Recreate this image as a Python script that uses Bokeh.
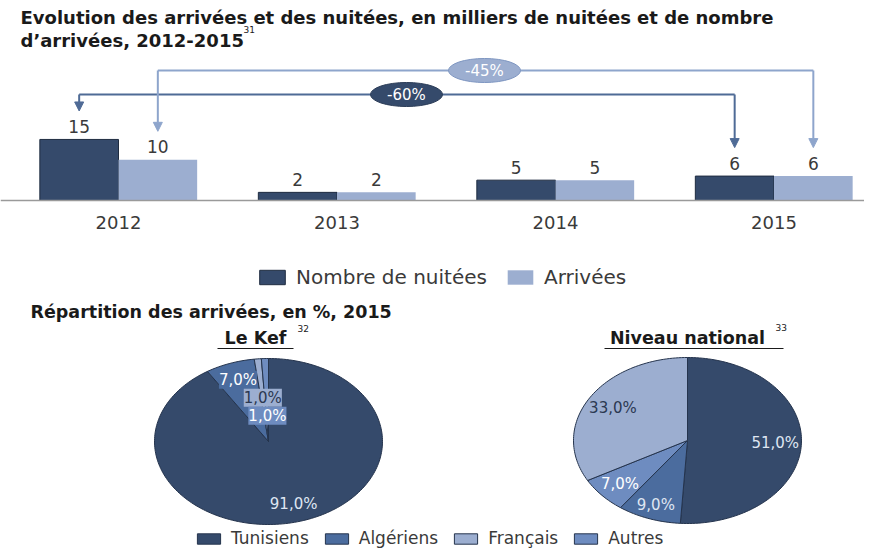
import math
from bokeh.plotting import figure
from bokeh.models import (Range1d, Span, Legend, LegendItem, Label, Arrow,
                          NormalHead, ColumnDataSource)
from bokeh.layouts import column
from bokeh.embed import file_html
from bokeh.resources import INLINE
from bokeh.core.properties import value

# ---------------- data ----------------
years = ["2012", "2013", "2014", "2015"]
nuitees = [15, 2, 5, 6]          # milliers de nuitées
arrivees = [10, 2, 5, 6]         # milliers d'arrivées
var_nuitees = "-60%"
var_arrivees = "-45%"

pie_cats = ["Tunisiens", "Algériens", "Français", "Autres"]
kef_cats = ["Tunisiens", "Algériens", "Français", "Autres"]
kef_pct = [91.0, 7.0, 1.0, 1.0]
nat_cats = ["Tunisiens", "Algériens", "Autres", "Français"]
nat_pct = [51.0, 9.0, 7.0, 33.0]

# ---------------- styles ----------------
DARK = "#354a6b"
ALG = "#4b6c9e"
FR = "#9caed0"
AUT = "#6e8cc0"
LIGHT = "#9caed0"
cat_color = {"Tunisiens": DARK, "Algériens": ALG, "Français": FR, "Autres": AUT}
TXT = "#3a3a3a"
FNAME = "DejaVu Sans"
FONT = value(FNAME)

W = 864
H1 = 290
H2 = 258

# page-pixel anchors for the bar panel (layout only)
X0, XS = 118.0, 218.5      # px of group 0 centre, px per group
Y0, YS = 200.0, 4.07       # px of baseline, px per unit


def tx(px):
    return (px - X0) / XS


def ty(py):
    return (Y0 - py) / YS


p1 = figure(width=W, height=H1, x_range=Range1d(tx(0), tx(W)),
            y_range=Range1d(ty(H1), ty(0)), x_axis_type=None,
            y_axis_type=None, output_backend="svg", toolbar_location=None,
            min_border=0)
p1.grid.visible = False
p1.outline_line_color = None

idx = list(range(len(years)))
BW = 0.36
src = ColumnDataSource(dict(
    xd=[i - BW / 2 for i in idx], xl=[i + BW / 2 for i in idx],
    n=nuitees, a=arrivees, ln=[str(v) for v in nuitees],
    la=[str(v) for v in arrivees], xc=idx, yr=years,
    ylab=[ty(222)] * len(years)))

r_n = p1.vbar(x="xd", top="n", bottom=0, width=BW, source=src,
              fill_color=DARK, line_color="#1f2c40", line_width=1)
r_a = p1.vbar(x="xl", top="a", bottom=0, width=BW, source=src,
              fill_color=LIGHT, line_color=None)

p1.add_layout(Span(location=0, dimension="width", line_color="#9a9a9a",
                   line_width=1.5))

p1.text(x="xd", y="n", text="ln", source=src, y_offset=-13,
        text_align="center", text_baseline="middle", text_font=FONT,
        text_font_size="17px", text_color=TXT)
p1.text(x="xl", y="a", text="la", source=src, y_offset=-13,
        text_align="center", text_baseline="middle", text_font=FONT,
        text_font_size="17px", text_color=TXT)
p1.text(x="xc", y="ylab", text="yr", source=src, text_align="center",
        text_baseline="middle", text_font=FONT, text_font_size="18px",
        text_color=TXT)

# variation connectors
conn = [
    (nuitees, -BW / 2, ty(94), "#4f6b96", DARK, "#2a3b56", var_nuitees, tx(406)),
    (arrivees, BW / 2, ty(70), "#8ea5cc", LIGHT, "#7d95c0", var_arrivees, tx(484)),
]
for vals, off, level, lc, fc, oc, lab, cx in conn:
    x1 = idx[0] + off
    x2 = idx[-1] + off
    p1.line(x=[x1, x2], y=[level, level], line_color=lc, line_width=2)
    for xx, vv in ((x1, vals[0]), (x2, vals[-1])):
        p1.add_layout(Arrow(x_start=xx, y_start=level, x_end=xx,
                            y_end=vv + 7.0, line_color=lc, line_width=2,
                            end=NormalHead(size=9, fill_color=lc,
                                           line_color=lc)))
    p1.ellipse(x=[cx], y=[level], width=72 / XS, height=24 / YS,
               fill_color=fc, line_color=oc, line_width=1)
    p1.text(x=[cx], y=[level], text=[lab], text_align="center",
            text_baseline="middle", text_font=FONT, text_font_size="15px",
            text_color="white")

# titles
p1.text(x=[tx(20), tx(20)], y=[ty(17), ty(40)],
        text=["Evolution des arrivées et des nuitées, en milliers de nuitées et de nombre",
              "d’arrivées, 2012-2015"],
        text_align="left", text_baseline="middle", text_font=FONT,
        text_font_style="bold", text_font_size="18px", text_color="#1a1a1a")
p1.text(x=[tx(243)], y=[ty(29)], text=["31"], text_align="left",
        text_baseline="middle", text_font=FONT, text_font_size="9px",
        text_color="#1a1a1a")

leg1 = Legend(items=[LegendItem(label="Nombre de nuitées", renderers=[r_n]),
                     LegendItem(label="Arrivées", renderers=[r_a])],
              orientation="horizontal", location=(256, 1), glyph_width=32,
              glyph_height=18, label_standoff=8, spacing=17, padding=0,
              margin=0, border_line_color=None, background_fill_alpha=0,
              label_text_font=FNAME, label_text_font_size="20px",
              label_text_color=TXT, label_height=20)
p1.add_layout(leg1)

# ---------------- pies ----------------
p2 = figure(width=W, height=H2, x_range=Range1d(0, W),
            y_range=Range1d(H1 + H2, H1), x_axis_type=None,
            y_axis_type=None, output_backend="svg", toolbar_location=None,
            min_border=0)
p2.grid.visible = False
p2.outline_line_color = None

RX, RY = 114.0, 83.0


def draw_pie(cx, cy, cats, pcts):
    rends = {}
    tot = sum(pcts)
    start = 0.0
    mids = []
    for c, v in zip(cats, pcts):
        a0 = start / tot * 2 * math.pi
        a1 = (start + v) / tot * 2 * math.pi
        n = max(4, int((a1 - a0) / (2 * math.pi) * 240))
        xs = [cx]
        ys = [cy]
        for k in range(n + 1):
            a = a0 + (a1 - a0) * k / n
            xs.append(cx + RX * math.sin(a))
            ys.append(cy - RY * math.cos(a))
        rends[c] = p2.patch(xs, ys, fill_color=cat_color[c],
                            line_color="#25344d", line_width=1)
        mids.append((a0 + a1) / 2)
        start += v
    return rends, mids


KCX, KCY = 268, 441
NCX, NCY = 687, 440
kef_r, kef_mid = draw_pie(KCX, KCY, kef_cats, kef_pct)
nat_r, nat_mid = draw_pie(NCX, NCY, nat_cats, nat_pct)


def fmt(v):
    return ("%.1f%%" % v).replace(".", ",")


# label radius fraction and boxes (layout)
kef_lr = [0.79, 0.79, 0.53, 0.31]
kef_box = [None, ALG, FR, AUT]
kef_tc = ["#dfe6f2", "white", "#2b3850", "white"]
for c, v, m, r, b, t in zip(kef_cats, kef_pct, kef_mid, kef_lr, kef_box, kef_tc):
    p2.add_layout(Label(x=KCX + r * RX * math.sin(m), y=KCY - r * RY * math.cos(m),
                        text=fmt(v), text_align="center",
                        text_baseline="middle", text_font=FNAME,
                        text_font_size="15px", text_color=t,
                        background_fill_color=b))
nat_lr = [0.77, 0.82, 0.79, 0.76]
nat_tc = ["#dfe6f2", "#dfe6f2", "white", "#2b3850"]
for c, v, m, r, t in zip(nat_cats, nat_pct, nat_mid, nat_lr, nat_tc):
    p2.add_layout(Label(x=NCX + r * RX * math.sin(m), y=NCY - r * RY * math.cos(m),
                        text=fmt(v), text_align="center",
                        text_baseline="middle", text_font=FNAME,
                        text_font_size="15px", text_color=t))

# titles
p2.text(x=[30], y=[311], text=["Répartition des arrivées, en %, 2015"],
        text_align="left", text_baseline="middle", text_font=FONT,
        text_font_style="bold", text_font_size="17.5px", text_color="#1a1a1a")
p2.text(x=[255, 687], y=[337, 337], text=["Le Kef", "Niveau national"],
        text_align="center", text_baseline="middle", text_font=FONT,
        text_font_style="bold", text_font_size="17.5px", text_color="#1a1a1a")
p2.segment(x0=[217, 604], y0=[348, 348], x1=[293, 783], y1=[348, 348],
           line_color="#1a1a1a", line_width=1)
p2.text(x=[297, 775], y=[328, 327], text=["32", "33"], text_align="left",
        text_baseline="middle", text_font=FONT, text_font_size="9px",
        text_color="#1a1a1a")

leg2 = Legend(items=[LegendItem(label=c, renderers=[kef_r[c]]) for c in pie_cats],
              orientation="horizontal", location=(194, 0), glyph_width=29,
              glyph_height=13, label_standoff=8, spacing=13, padding=0,
              margin=0, border_line_color=None, background_fill_alpha=0,
              label_text_font=FNAME, label_text_font_size="17px",
              label_text_color=TXT, label_height=16)
p2.add_layout(leg2)

layout = column(p1, p2, spacing=0)
open("out.html", "w").write(file_html(layout, INLINE))
